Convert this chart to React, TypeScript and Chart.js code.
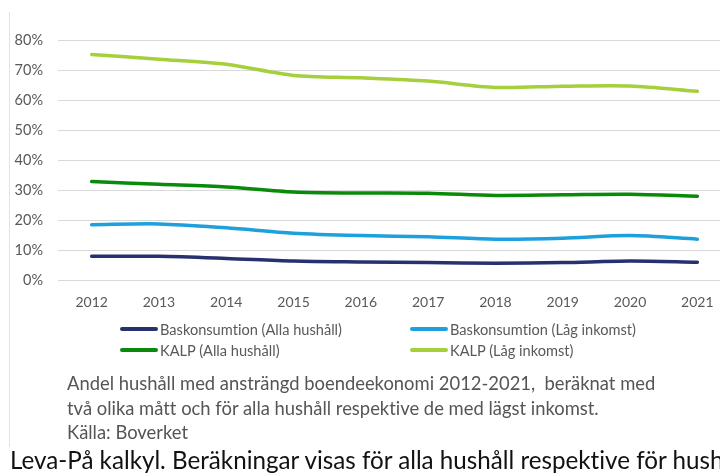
import React, { useEffect, useRef } from "react";
import { Chart, registerables } from "chart.js";

Chart.register(...registerables);

const years = ["2012", "2013", "2014", "2015", "2016", "2017", "2018", "2019", "2020", "2021"];
const baskAlla = [7.9, 7.9, 7.2, 6.3, 6.0, 5.8, 5.6, 5.8, 6.3, 5.9];
const baskLag = [18.4, 18.7, 17.4, 15.6, 14.8, 14.4, 13.6, 13.9, 14.8, 13.6];
const kalpAlla = [32.8, 31.9, 31.0, 29.3, 29.0, 28.9, 28.2, 28.4, 28.6, 27.9];
const kalpLag = [75.2, 73.6, 71.9, 68.2, 67.4, 66.3, 64.2, 64.6, 64.7, 62.9];
const yTicks = [0, 10, 20, 30, 40, 50, 60, 70, 80];

const seriesNames = [
  "Baskonsumtion (Alla hushåll)",
  "Baskonsumtion (Låg inkomst)",
  "KALP (Alla hushåll)",
  "KALP (Låg inkomst)",
];
const seriesColors = ["#28316f", "#1ea0dc", "#0a8a0a", "#a6cf3c"];
const seriesData = [baskAlla, baskLag, kalpAlla, kalpLag];

const FONT = "Lato, 'Open Sans', sans-serif";

export default function App() {
  const ref = useRef<HTMLCanvasElement | null>(null);

  useEffect(() => {
    if (!ref.current) return;
    const chart = new Chart(ref.current, {
      type: "line",
      data: {
        labels: years,
        datasets: seriesNames.map((name, i) => ({
          label: name,
          data: seriesData[i],
          borderColor: seriesColors[i],
          backgroundColor: seriesColors[i],
          borderWidth: 3.5,
          pointRadius: 0,
          tension: 0.3,
          borderCapStyle: "round" as const,
          fill: false,
        })),
      },
      options: {
        animation: false,
        responsive: false,
        maintainAspectRatio: false,
        layout: { padding: { top: 40, right: 9, bottom: 0, left: 0 } },
        plugins: {
          legend: { display: false },
          tooltip: { enabled: false },
        },
        scales: {
          x: {
            offset: true,
            grid: { display: false, drawTicks: false },
            border: { display: false },
            ticks: {
              color: "#595959",
              font: { family: FONT, size: 14 },
              padding: 14,
              maxRotation: 0,
              autoSkip: false,
            },
            afterFit: (s: any) => {
              s.height = 40;
            },
          },
          y: {
            min: 0,
            max: 80,
            afterBuildTicks: (s: any) => {
              s.ticks = yTicks.map((v) => ({ value: v }));
            },
            grid: { color: "#d9d9d9", lineWidth: 1, drawTicks: false },
            border: { display: false },
            ticks: {
              color: "#595959",
              font: { family: FONT, size: 14.5 },
              padding: 15,
              callback: (v: any) => v + "%",
            },
            afterFit: (s: any) => {
              s.width = 58;
            },
          },
        },
      },
    });
    return () => chart.destroy();
  }, []);

  return (
    <div
      style={{
        position: "fixed",
        left: 0,
        top: 0,
        width: 720,
        height: 474,
        overflow: "hidden",
        background: "#fff",
        fontFamily: FONT,
        fontVariantLigatures: "none",
      }}
    >
      <div
        style={{
          position: "absolute",
          left: 9,
          top: 12,
          width: 1,
          height: 435,
          background: "#e3e3e3",
        }}
      />
      <canvas
        ref={ref}
        width={740}
        height={320}
        style={{ position: "absolute", left: 0, top: 0, width: 740, height: 320 }}
      />
      {seriesNames.map((name, i) => (
        <div
          key={name}
          style={{
            position: "absolute",
            left: i % 2 === 0 ? 120 : 410,
            top: i < 2 ? 318 : 339,
            height: 22,
            display: "flex",
            alignItems: "center",
            whiteSpace: "nowrap",
            fontSize: 14.6,
            color: "#595959",
          }}
        >
          <span
            style={{
              display: "inline-block",
              width: 38,
              height: 3.5,
              borderRadius: 2,
              background: seriesColors[i],
              marginRight: 2,
            }}
          />
          <span>{name}</span>
        </div>
      ))}
      <div
        style={{
          position: "absolute",
          left: 67,
          top: 371,
          fontSize: 18.4,
          lineHeight: "24.5px",
          color: "#555555",
          whiteSpace: "nowrap",
        }}
      >
        Andel hushåll med ansträngd boendeekonomi 2012-2021,&nbsp; beräknat med
        <br />
        två olika mått och för alla hushåll respektive de med lägst inkomst.
        <br />
        Källa: Boverket
      </div>
      <div
        style={{
          position: "absolute",
          left: 10,
          top: 443,
          fontSize: 24.2,
          lineHeight: "34px",
          color: "#111111",
          whiteSpace: "nowrap",
        }}
      >
        Leva-På kalkyl. Beräkningar visas för alla hushåll respektive för hushåll med lägst inkomst.
      </div>
    </div>
  );
}
